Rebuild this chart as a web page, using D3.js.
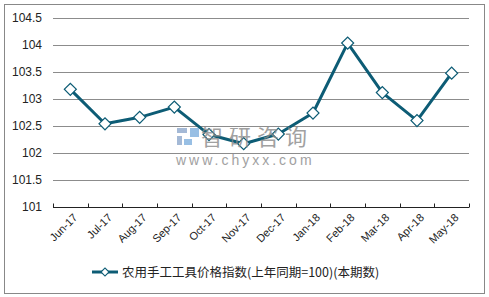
<!DOCTYPE html>
<html>
<head>
<meta charset="utf-8">
<script src="https://cdn.jsdelivr.net/npm/d3@7"></script>
<style>
  body { margin: 0; background: #fff; }
  text { font-family: "Liberation Sans", Arial, sans-serif; }
</style>
</head>
<body>
<div id="chart"></div>
<script>
var months = ["Jun-17","Jul-17","Aug-17","Sep-17","Oct-17","Nov-17","Dec-17","Jan-18","Feb-18","Mar-18","Apr-18","May-18"];
var values = [103.18, 102.54, 102.66, 102.85, 102.34, 102.17, 102.35, 102.74, 104.04, 103.12, 102.6, 103.48];
var yTicks = [101, 101.5, 102, 102.5, 103, 103.5, 104, 104.5];
var seriesName = "农用手工工具价格指数(上年同期=100)(本期数)";

var width = 489, height = 297,
    margin = {top: 18, right: 20, bottom: 91, left: 53},
    color = "#0d5c75";

var svg = d3.select("#chart").append("svg")
    .attr("width", width)
    .attr("height", height);

// outer frame
svg.append("rect")
  .attr("x", 4.5).attr("y", 4.5)
  .attr("width", 480).attr("height", 289)
  .attr("fill", "#fff")
  .attr("stroke", "#888");

var x = d3.scaleBand()
    .domain(months)
    .range([margin.left, width - margin.right]);

var y = d3.scaleLinear()
    .domain([101, 104.5])
    .range([height - margin.bottom + 0.7, margin.top + 0.3]);

// gridlines
svg.append("g")
  .selectAll("line")
  .data(yTicks.slice(1))
  .enter().append("line")
  .attr("x1", margin.left).attr("x2", width - margin.right)
  .attr("y1", function(d){ return Math.round(y(d)) + 0.5; })
  .attr("y2", function(d){ return Math.round(y(d)) + 0.5; })
  .attr("stroke", "#8c8c8c");

// y labels
svg.append("g")
  .selectAll("text")
  .data(yTicks)
  .enter().append("text")
  .attr("x", 42)
  .attr("y", function(d){ return y(d) + 4; })
  .attr("text-anchor", "end")
  .style("font-size", "12px")
  .style("fill", "#222")
  .text(function(d){ return d; });

// x axis
var axisY = Math.round(y(101)) + 0.5;
svg.append("line")
  .attr("x1", margin.left).attr("x2", width - margin.right)
  .attr("y1", axisY).attr("y2", axisY)
  .attr("stroke", "#222");

var tickPos = months.map(function(m){ return x(m); }).concat([width - margin.right]);
svg.append("g")
  .selectAll("line")
  .data(tickPos)
  .enter().append("line")
  .attr("x1", function(d){ return Math.round(d) + 0.5; })
  .attr("x2", function(d){ return Math.round(d) + 0.5; })
  .attr("y1", axisY - 4).attr("y2", axisY)
  .attr("stroke", "#222");

svg.append("g")
  .selectAll("text")
  .data(months)
  .enter().append("text")
  .attr("transform", function(d){
    return "translate(" + (x(d) + x.bandwidth() / 2 + 5) + "," + (axisY + 8) + ") rotate(-45)";
  })
  .attr("text-anchor", "end")
  .attr("dy", "0.35em")
  .style("font-size", "11px")
  .style("fill", "#222")
  .text(function(d){ return d; });

// series line
var line = d3.line()
    .x(function(d, i){ return x(months[i]) + x.bandwidth() / 2; })
    .y(function(d){ return y(d); });

svg.append("path")
  .datum(values)
  .attr("d", line)
  .attr("fill", "none")
  .attr("stroke", color)
  .attr("stroke-width", 3)
  .attr("stroke-linejoin", "round");

var diamond = d3.symbol().type(d3.symbolSquare).size(72);
svg.append("g")
  .selectAll("path")
  .data(values)
  .enter().append("path")
  .attr("d", diamond)
  .attr("transform", function(d, i){
    return "translate(" + (x(months[i]) + x.bandwidth() / 2) + "," + y(d) + ") rotate(45)";
  })
  .attr("fill", "#fff")
  .attr("stroke", color)
  .attr("stroke-width", 1.2);

// watermark (drawn over the line, semi transparent)
var wm = svg.append("g").attr("opacity", 0.8);
wm.append("rect").attr("x", 177).attr("y", 128).attr("width", 10).attr("height", 5).attr("fill", "#8ea8cc");
wm.append("rect").attr("x", 177).attr("y", 136).attr("width", 5).attr("height", 9).attr("fill", "#8ea8cc");
wm.append("rect").attr("x", 184).attr("y", 139).attr("width", 8).attr("height", 6).attr("fill", "#7fb0de");
wm.append("rect").attr("x", 190).attr("y", 128).attr("width", 9).attr("height", 9).attr("fill", "#7fb0de");
wm.append("text")
  .attr("x", 201).attr("y", 145)
  .style("font-family", "'Noto Sans CJK SC'")
  .style("font-size", "22px")
  .style("letter-spacing", "6px")
  .style("fill", "#8a8a8a")
  .text("智研咨询");
wm.append("text")
  .attr("x", 176).attr("y", 165)
  .style("font-size", "14px")
  .style("letter-spacing", "3px")
  .style("fill", "#8a8a8a")
  .text("www.chyxx.com");

// legend
var lg = svg.append("g").attr("transform", "translate(92,272)");
lg.append("line")
  .attr("x1", 0).attr("x2", 26)
  .attr("stroke", color).attr("stroke-width", 3);
lg.append("path")
  .attr("d", d3.symbol().type(d3.symbolSquare).size(32))
  .attr("transform", "translate(13,0) rotate(45)")
  .attr("fill", "#fff")
  .attr("stroke", color)
  .attr("stroke-width", 1.2);
lg.append("text")
  .attr("x", 30).attr("y", 5)
  .style("font-family", "'Noto Sans CJK SC', sans-serif")
  .style("font-size", "12.5px")
  .style("fill", "#222")
  .text(seriesName);
</script>
</body>
</html>
